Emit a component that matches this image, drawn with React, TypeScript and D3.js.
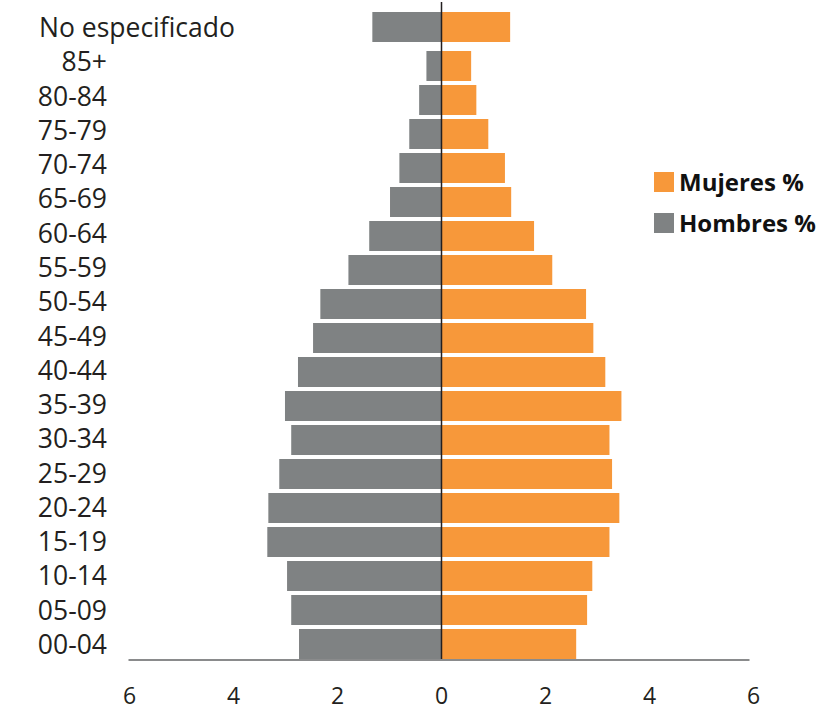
import React from "react";
import * as d3 from "d3";

// Age groups, top to bottom
const ageGroups = [
  "No especificado", "85+", "80-84", "75-79", "70-74", "65-69", "60-64",
  "55-59", "50-54", "45-49", "40-44", "35-39", "30-34", "25-29", "20-24",
  "15-19", "10-14", "05-09", "00-04",
];

// Share of population (%) per age group
const hombres = [
  1.33, 0.29, 0.43, 0.62, 0.81, 0.99, 1.39, 1.79, 2.33, 2.47, 2.76, 3.01,
  2.89, 3.12, 3.33, 3.35, 2.97, 2.89, 2.74,
];
const mujeres = [
  1.32, 0.57, 0.67, 0.9, 1.22, 1.34, 1.78, 2.13, 2.78, 2.92, 3.15, 3.46,
  3.23, 3.28, 3.42, 3.23, 2.9, 2.8, 2.59,
];

const xTicks = [-6, -4, -2, 0, 2, 4, 6];

const legendItems = [
  { label: "Mujeres %", color: "#F7983A" },
  { label: "Hombres %", color: "#7F8283" },
];

const W = 840;
const H = 710;
const ORANGE = "#F7983A";
const GRAY = "#7F8283";
const TEXT = "#231F20";
const FONT = "'Open Sans', Lato, sans-serif";

export default function App() {
  const x = d3.scaleLinear().domain([-6, 6]).range([129.5, 753.5]);
  const step = 34;
  const y = d3
    .scaleBand<string>()
    .domain(ageGroups)
    .range([15, 15 + step * ageGroups.length])
    .paddingInner(4 / step)
    .paddingOuter(2 / step);
  const yLabel = d3
    .scalePoint<string>()
    .domain(ageGroups)
    .range([28, 645]);

  const axisY = 660;

  return (
    <svg
      width={W}
      height={H}
      style={{ position: "absolute", left: 0, top: 0, background: "#fff" }}
      fontFamily={FONT}
    >
      {/* Men bars (left) */}
      {ageGroups.map((g, i) => (
        <rect
          key={"h" + g}
          x={x(-hombres[i])}
          y={i === 0 ? (y(g) as number) - 5 : (y(g) as number)}
          width={x(0) - x(-hombres[i])}
          height={y.bandwidth()}
          fill={GRAY}
        />
      ))}
      {/* Women bars (right) */}
      {ageGroups.map((g, i) => (
        <rect
          key={"m" + g}
          x={x(0)}
          y={i === 0 ? (y(g) as number) - 5 : (y(g) as number)}
          width={x(mujeres[i]) - x(0)}
          height={y.bandwidth()}
          fill={ORANGE}
        />
      ))}

      {/* Centre line */}
      <line x1={x(0)} x2={x(0)} y1={2} y2={axisY} stroke={TEXT} strokeWidth={1.5} />

      {/* Horizontal axis */}
      <line x1={x(-6) - 1} x2={x(6) - 4} y1={axisY} y2={axisY} stroke="#8A8B8C" strokeWidth={2} />
      {xTicks.map((t) => (
        <text
          key={t}
          x={x(t)}
          y={704}
          textAnchor="middle"
          fontSize={23}
          fill={TEXT}
        >
          {Math.abs(t)}
        </text>
      ))}

      {/* Category labels */}
      {ageGroups.map((g, i) => (
        <text
          key={"l" + g}
          x={i === 0 ? 39 : 107}
          y={(yLabel(g) as number) + 9}
          textAnchor={i === 0 ? "start" : "end"}
          fontSize={26.5}
          fill={TEXT}
        >
          {g}
        </text>
      ))}

      {/* Legend */}
      {legendItems.map((d, i) => (
        <g key={d.label} transform={`translate(654, ${172 + i * 41})`}>
          <rect x={0} y={0} width={20} height={20} fill={d.color} />
          <text x={25} y={19} fontSize={24} fontWeight="bold" fill="#111">
            {d.label}
          </text>
        </g>
      ))}
    </svg>
  );
}
